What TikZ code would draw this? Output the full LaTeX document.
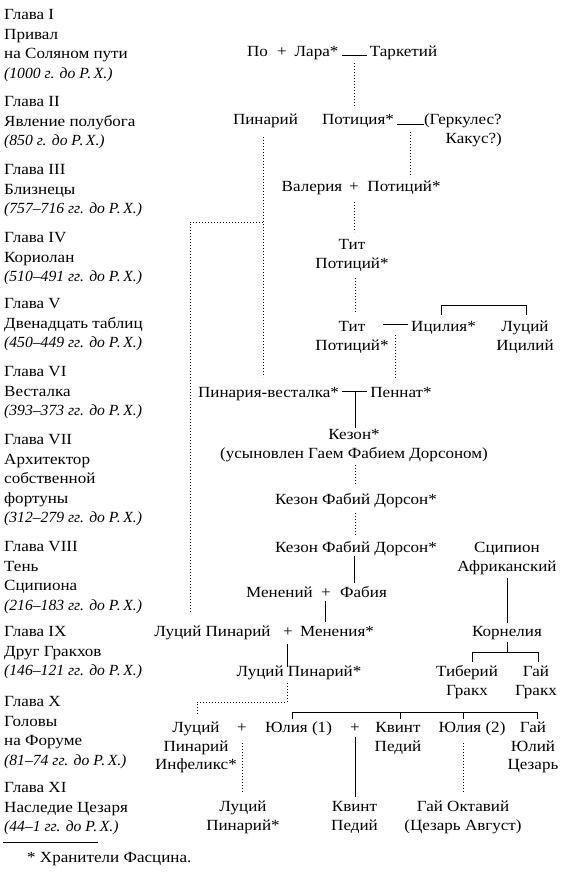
\documentclass[tikz,border=0pt]{standalone}
\usepackage{fontspec}
\setmainfont{Liberation Serif}[FakeStretch=1.1]
\newfontfamily\datefam{Liberation Serif}[FakeStretch=1.01]
\newcommand\datetxt[1]{{\datefam\itshape #1}}
\begin{document}
\begin{tikzpicture}[x=1pt,y=-1pt,
  txt/.style={inner sep=0pt, anchor=base, font=\fontsize{15.5}{18.5}\selectfont, align=center},
  chap/.style={inner sep=0pt, anchor=base west, font=\fontsize{15.5}{19.6}\selectfont, align=left},
  link/.style={line width=0.8pt},
  dots/.style={line width=0.8pt, dash pattern=on 0.8pt off 2.2pt},
]
\useasboundingbox (0,0) rectangle (563,873);

% ---------- chapter column (positions are last-line baselines) ----------
\node[chap] (ch1) at (4,78.3) {Глава I\\Привал\\на Соляном пути\\\datetxt{(1000 г. до Р.\,Х.)}};
\node[chap] (ch2) at (4,145.7) {Глава II\\Явление полубога\\\datetxt{(850 г. до Р.\,Х.)}};
\node[chap] (ch3) at (4,213.7) {Глава III\\Близнецы\\\datetxt{(757–716 гг. до Р.\,Х.)}};
\node[chap] (ch4) at (4,281.7) {Глава IV\\Кориолан\\\datetxt{(510–491 гг. до Р.\,Х.)}};
\node[chap] (ch5) at (4,347.7) {Глава V\\Двенадцать таблиц\\\datetxt{(450–449 гг. до Р.\,Х.)}};
\node[chap] (ch6) at (4,415.7) {Глава VI\\Весталка\\\datetxt{(393–373 гг. до Р.\,Х.)}};
\node[chap] (ch7) at (4,522.9) {Глава VII\\Архитектор\\собственной\\фортуны\\\datetxt{(312–279 гг. до Р.\,Х.)}};
\node[chap] (ch8) at (4,610.3) {Глава VIII\\Тень\\Сципиона\\\datetxt{(216–183 гг. до Р.\,Х.)}};
\node[chap] (ch9) at (4,675.7) {Глава IX\\Друг Гракхов\\\datetxt{(146–121 гг. до Р.\,Х.)}};
\node[chap] (ch10) at (4,765.3) {Глава X\\Головы\\на Форуме\\\datetxt{(81–74 гг. до Р.\,Х.)}};
\node[chap] (ch11) at (4,831.7) {Глава XI\\Наследие Цезаря\\\datetxt{(44–1 гг. до Р.\,Х.)}};

\coordinate (fnA) at (3,842);
\coordinate (fnB) at (98,842);
\draw[link] (fnA) -- (fnB);
\node[chap] (fn) at (27,862.5) {* Хранители Фасцина.};

% ---------- row 1 ----------
\node[txt] (po) at (257.5,56.5) {По};
\node[txt] (p1) at (282,56.5) {+};
\node[txt] (lara) at (316.5,56.5) {Лара*};
\node[txt] (tark) at (403.5,56.5) {Таркетий};
\coordinate (m1a) at (342,55.5); \coordinate (m1b) at (367,55.5);
\draw[link] (m1a) -- (m1b);
\coordinate (d1a) at (354.5,63); \coordinate (d1b) at (354.5,108);
\draw[dots] (d1a) -- (d1b);

% ---------- row 2 ----------
\node[txt] (pinar) at (265.5,124.5) {Пинарий};
\node[txt] (potitia) at (358,124.5) {Потиция*};
\node[txt, anchor=base east, align=right] (herc) at (502,143) {(Геркулес?\\Какус?)};
\coordinate (m2a) at (397,124); \coordinate (m2b) at (424,124);
\draw[link] (m2a) -- (m2b);
\coordinate (d2a) at (410,132); \coordinate (d2b) at (410,177);
\draw[dots] (d2a) -- (d2b);
\coordinate (pa) at (263,137); \coordinate (pb) at (263,377);
\draw[dots] (pa) -- (pb);
\coordinate (pj) at (263,222); \coordinate (pk) at (190,222); \coordinate (pl) at (190,613);
\draw[dots] (pj) -- (pk) -- (pl);

% ---------- row 3 ----------
\node[txt] (valeria) at (312,191.5) {Валерия};
\node[txt] (p3) at (354,191.5) {+};
\node[txt] (potit1) at (404,191.5) {Потиций*};
\coordinate (d3a) at (354,202); \coordinate (d3b) at (354,232);
\draw[dots] (d3a) -- (d3b);

% ---------- row 4 ----------
\node[txt] (tit1) at (352,268) {Тит\\Потиций*};
\coordinate (d4a) at (355,278); \coordinate (d4b) at (355,312);
\draw[dots] (d4a) -- (d4b);

% ---------- row 5 ----------
\node[txt] (tit2) at (352,350) {Тит\\Потиций*};
\node[txt] (icilia) at (443.5,331.5) {Ицилия*};
\node[txt] (icil) at (525,350) {Луций\\Ицилий};
\coordinate (m5a) at (383,324); \coordinate (m5b) at (408,324);
\draw[link] (m5a) -- (m5b);
\coordinate (b5a) at (441,315); \coordinate (b5b) at (441,305);
\coordinate (b5c) at (526,305); \coordinate (b5d) at (526,315);
\draw[link] (b5a) -- (b5b) -- (b5c) -- (b5d);
\coordinate (d5a) at (395,335); \coordinate (d5b) at (395,380);
\draw[dots] (d5a) -- (d5b);

% ---------- row 6 ----------
\node[txt] (vestal) at (268.5,397.5) {Пинария-весталка*};
\node[txt] (pennat) at (401,397.5) {Пеннат*};
\coordinate (m6a) at (342,391.5); \coordinate (m6b) at (367,391.5);
\draw[link] (m6a) -- (m6b);
\coordinate (c6a) at (355,391.5); \coordinate (c6b) at (355,428);
\draw[link] (c6a) -- (c6b);

% ---------- row 7 ----------
\node[txt] (kezon) at (354,458) {Кезон*\\(усыновлен Гаем Фабием Дорсоном)};
\coordinate (d7a) at (355,465); \coordinate (d7b) at (355,485);
\draw[dots] (d7a) -- (d7b);

% ---------- row 8 ----------
\node[txt] (kfd1) at (356,504.5) {Кезон Фабий Дорсон*};
\coordinate (d8a) at (355,513); \coordinate (d8b) at (355,535);
\draw[dots] (d8a) -- (d8b);

% ---------- row 9 ----------
\node[txt] (kfd2) at (356,552.5) {Кезон Фабий Дорсон*};
\node[txt] (scipio) at (507,571) {Сципион\\Африканский};
\coordinate (c9a) at (354,556); \coordinate (c9b) at (354,583);
\draw[link] (c9a) -- (c9b);
\coordinate (c9c) at (507,578); \coordinate (c9d) at (507,623);
\draw[link] (c9c) -- (c9d);

% ---------- row 10 ----------
\node[txt] (menen) at (279.5,597.5) {Менений};
\node[txt] (p10) at (326,597.5) {+};
\node[txt] (fabia) at (363.5,597.5) {Фабия};
\coordinate (c10a) at (325,601); \coordinate (c10b) at (325,622);
\draw[link] (c10a) -- (c10b);

% ---------- row 11 ----------
\node[txt] (lpin) at (212.5,636.5) {Луций Пинарий};
\node[txt] (p11) at (288,636.5) {+};
\node[txt] (menenia) at (337,636.5) {Менения*};
\node[txt] (cornel) at (507,636.5) {Корнелия};
\coordinate (c11a) at (287,644); \coordinate (c11b) at (287,667);
\draw[link] (c11a) -- (c11b);
\coordinate (b11a) at (507,642); \coordinate (b11b) at (507,652);
\draw[link] (b11a) -- (b11b);
\coordinate (b11c) at (472,662); \coordinate (b11d) at (472,652);
\coordinate (b11e) at (538,652); \coordinate (b11f) at (538,662);
\draw[link] (b11c) -- (b11d) -- (b11e) -- (b11f);

% ---------- row 12 ----------
\node[txt] (lpin2) at (299,676.5) {Луций Пинарий*};
\node[txt] (tiber) at (467,695) {Тиберий\\Гракх};
\node[txt] (gaigr) at (536,695) {Гай\\Гракх};
\coordinate (d12a) at (287,683); \coordinate (d12b) at (287,702);
\coordinate (d12c) at (197,702); \coordinate (d12d) at (197,715);
\draw[dots] (d12a) -- (d12b) -- (d12c) -- (d12d);

% ---------- row 13 ----------
\node[txt] (infel) at (196,769.5) {Луций\\Пинарий\\Инфеликс*};
\node[txt] (p13a) at (242,732.5) {+};
\node[txt] (julia1) at (298.5,732.5) {Юлия (1)};
\node[txt] (p13b) at (355,732.5) {+};
\node[txt] (qped1) at (398,751) {Квинт\\Педий};
\node[txt] (julia2) at (472,732.5) {Юлия (2)};
\node[txt] (caesar) at (533,769.5) {Гай\\Юлий\\Цезарь};
\coordinate (s1) at (292,712); \coordinate (s2) at (400,712);
\coordinate (s3) at (463,712); \coordinate (s4) at (537,712);
\coordinate (s1b) at (292,719); \coordinate (s2b) at (400,719);
\coordinate (s3b) at (463,719); \coordinate (s4b) at (537,719);
\draw[link] (s1) -- (s4);
\draw[link] (s1) -- (s1b);
\draw[link] (s2) -- (s2b);
\draw[link] (s3) -- (s3b);
\draw[link] (s4) -- (s4b);
\coordinate (d13a) at (242,743); \coordinate (d13b) at (242,793);
\draw[dots] (d13a) -- (d13b);
\coordinate (c13a) at (355,737); \coordinate (c13b) at (355,797);
\draw[link] (c13a) -- (c13b);
\coordinate (d13c) at (463,743); \coordinate (d13d) at (463,793);
\draw[dots] (d13c) -- (d13d);

% ---------- row 14 ----------
\node[txt] (lpin3) at (243,830) {Луций\\Пинарий*};
\node[txt] (qped2) at (354.5,830) {Квинт\\Педий};
\node[txt] (octav) at (463,830) {Гай Октавий\\(Цезарь Август)};
\end{tikzpicture}
\end{document}
